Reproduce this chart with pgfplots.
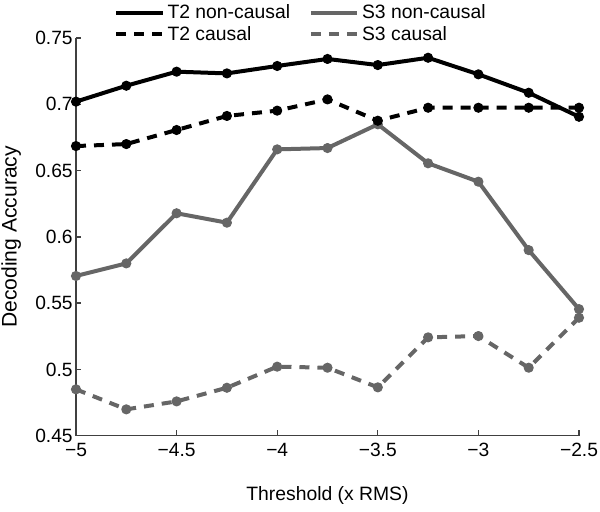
\documentclass[border=0pt]{standalone}
\usepackage{pgfplots}
\pgfplotsset{compat=1.18}
\usepackage{fontspec}
\setmainfont{Liberation Sans}
\definecolor{sgray}{RGB}{102,102,102}
\begin{document}
\begin{tikzpicture}
\useasboundingbox (-57pt,-56.5pt) rectangle (393pt,326.8pt);
\begin{axis}[
  scale only axis, width=377.25pt, height=298.3pt,
  at={(0pt,0pt)}, anchor=south west,
  xmin=-5, xmax=-2.5, ymin=0.45, ymax=0.75,
  axis x line=bottom, axis y line=left,
  axis line style={-, line width=1pt, black!75},
  xtick={-5,-4.5,-4,-3.5,-3,-2.5},
  xticklabels={−5,−4.5,−4,−3.5,−3,−2.5},
  ytick={0.45,0.5,0.55,0.6,0.65,0.7,0.75},
  yticklabels={0.45,0.5,0.55,0.6,0.65,0.7,0.75},
  tick style={black!75, line width=1pt},
  tick align=inside, major tick length=4pt,
  ticklabel style={font=\fontsize{14.4}{16}\selectfont},
  xticklabel style={yshift=-2pt},
  yticklabel style={xshift=1pt},
  xlabel={Threshold (x RMS)},
  ylabel={Decoding Accuracy},
  xlabel style={font=\fontsize{14.5}{17}\selectfont, at={(axis description cs:0.5,-0.149)}, anchor=center},
  ylabel style={font=\fontsize{15.8}{19}\selectfont, at={(axis description cs:-0.129,0.5)}, anchor=center},
  clip=false,
  legend columns=2,
  legend cell align=left,
  legend style={draw=none, fill=none, inner sep=0pt,
    at={(axis description cs:0.0755,0.982)}, anchor=south west,
    font=\fontsize{14.5}{17}\selectfont,
    /tikz/every even column/.append style={column sep=12pt},
    nodes={inner sep=2pt}},
  legend image code/.code={\draw[#1] (0pt,0pt) -- (35pt,0pt);},
  every axis plot/.append style={line width=3pt, line join=round, mark=*, mark size=3.4pt},
]
\addplot[black, mark options={solid, fill=black, draw=black, line width=0.8pt}] coordinates {(-5,0.702)(-4.75,0.714)(-4.5,0.7246)(-4.25,0.7233)(-4,0.7289)(-3.75,0.7342)(-3.5,0.7296)(-3.25,0.7351)(-3,0.7226)(-2.75,0.7087)(-2.5,0.6906)};
\addlegendentry{T2 non-causal}
\addplot[sgray, mark options={solid, fill=sgray, draw=sgray, line width=0.8pt}] coordinates {(-5,0.5705)(-4.75,0.580)(-4.5,0.6178)(-4.25,0.6107)(-4,0.666)(-3.75,0.667)(-3.5,0.6849)(-3.25,0.6555)(-3,0.6416)(-2.75,0.590)(-2.5,0.5455)};
\addlegendentry{S3 non-causal}
\addplot[black, dash pattern=on 7.5pt off 6pt, mark options={solid, fill=black, draw=black, line width=0.8pt}] coordinates {(-5,0.6685)(-4.75,0.670)(-4.5,0.6806)(-4.25,0.6912)(-4,0.6952)(-3.75,0.7037)(-3.5,0.6876)(-3.25,0.6974)(-3,0.6974)(-2.75,0.6974)(-2.5,0.6974)};
\addlegendentry{T2 causal}
\addplot[sgray, dash pattern=on 7.5pt off 6pt, mark options={solid, fill=sgray, draw=sgray, line width=0.8pt}] coordinates {(-5,0.485)(-4.75,0.4699)(-4.5,0.4759)(-4.25,0.4862)(-4,0.5021)(-3.75,0.5013)(-3.5,0.4865)(-3.25,0.5242)(-3,0.5252)(-2.75,0.5013)(-2.5,0.539)};
\addlegendentry{S3 causal}
\end{axis}
\end{tikzpicture}
\end{document}
